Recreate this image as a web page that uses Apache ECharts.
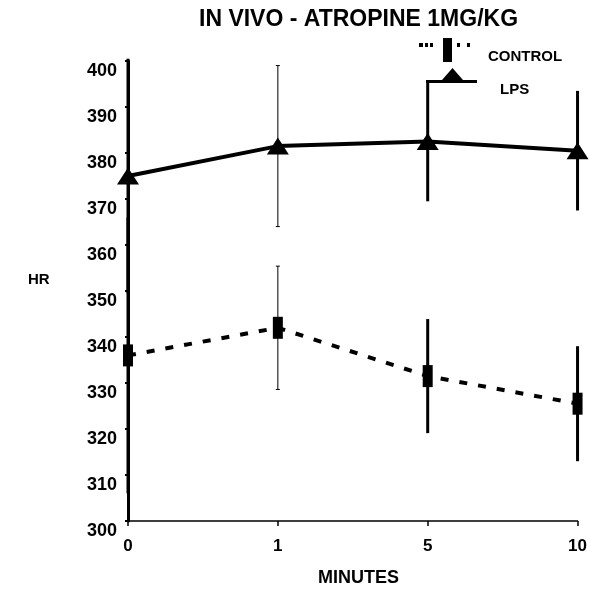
<!DOCTYPE html>
<html>
<head>
<meta charset="utf-8">
<script src="https://cdn.jsdelivr.net/npm/echarts@6/dist/echarts.min.js"></script>
<style>
  html, body { margin: 0; padding: 0; background: #fff; }
  #chart { width: 590px; height: 590px; }
</style>
</head>
<body>
<div id="chart"></div>
<script>
// values
const minutes = ['0', '1', '5', '10']
const controlHR = [336, 342, 331.5, 325.5]
const controlErr = [30, 13.4, 12.4, 12.5]
const lpsHR = [375, 381.5, 382.5, 380.5]
const lpsErr = [25.5, 17.5, 13, 13]
const yTicks = { min: 300, max: 400, step: 10 }

const FONT = 'Liberation Sans, Arial, sans-serif'

let myChart = echarts.init(document.getElementById('chart'))

// error bar data: [index, low, high]
const toBars = (mean, err) => mean.map((v, i) => [i, v - err[i], v + err[i]])

const errBar = (name, mean, err) => ({
  name: name,
  type: 'custom',
  z: 1,
  silent: true,
  renderItem: (params, api) => {
    const i = api.value(0)
    const lo = api.coord([i, api.value(1)])
    const hi = api.coord([i, api.value(2)])
    const thin = i === 1
    const w = thin ? 1 : 3
    const children = [{
      type: 'line',
      shape: { x1: lo[0], y1: lo[1], x2: hi[0], y2: hi[1] },
      style: { stroke: '#000', lineWidth: w }
    }]
    if (thin) {
      children.push({ type: 'line', shape: { x1: lo[0] - 2, y1: lo[1], x2: lo[0] + 2, y2: lo[1] }, style: { stroke: '#000', lineWidth: 1 } })
      children.push({ type: 'line', shape: { x1: hi[0] - 2, y1: hi[1], x2: hi[0] + 2, y2: hi[1] }, style: { stroke: '#000', lineWidth: 1 } })
    }
    return { type: 'group', children: children }
  },
  encode: { x: 0, y: [1, 2] },
  data: toBars(mean, err)
})

const controlIcon = 'path://M0,5h4v4h-4z M6,5h3v4h-3z M11,5h3v4h-3z M24,0h9v24h-9z M38,5h3v4h-3z M48,5h3v4h-3z'
const lpsIcon = 'path://M0,12h51v3h-51z M16,12L26.5,0L37,12z'

const legendText = {
  fontFamily: FONT, fontSize: 15, fontWeight: 'bold', color: '#000'
}

myChart.setOption({
  animation: false,
  color: ['#000'],
  title: {
    text: 'IN VIVO - ATROPINE 1MG/KG',
    left: 199,
    top: 8,
    padding: 0,
    textStyle: { fontFamily: FONT, fontSize: 23, fontWeight: 'bold', color: '#000' }
  },
  legend: [
    {
      data: [{ name: 'CONTROL', icon: controlIcon }],
      left: 419,
      top: 38,
      padding: 0,
      itemWidth: 51,
      itemHeight: 24,
      selectedMode: false,
      formatter: '{t|{name}}',
      textStyle: Object.assign({}, legendText, {
        rich: { t: Object.assign({}, legendText, { padding: [14, 0, 0, 13] }) }
      })
    },
    {
      data: [{ name: 'LPS', icon: lpsIcon }],
      left: 426,
      top: 68,
      padding: 0,
      itemWidth: 51,
      itemHeight: 15,
      selectedMode: false,
      formatter: '{t|{name}}',
      textStyle: Object.assign({}, legendText, {
        rich: { t: Object.assign({}, legendText, { padding: [29, 0, 0, 18] }) }
      })
    }
  ],
  graphic: [
    {
      type: 'text',
      left: 28,
      top: 272,
      style: { text: 'HR', font: 'bold 15px ' + FONT, fill: '#000' }
    },
    {
      type: 'text',
      left: 318,
      top: 569,
      style: { text: 'MINUTES', font: 'bold 18px ' + FONT, fill: '#000' }
    }
  ],
  grid: {
    left: 128,
    right: 8,
    top: 61,
    bottom: 69
  },
  xAxis: {
    type: 'category',
    data: minutes,
    boundaryGap: false,
    axisLine: { lineStyle: { color: '#000', width: 1.5 } },
    axisTick: { show: true, length: 5, lineStyle: { color: '#000', width: 1.5 } },
    axisLabel: { fontFamily: FONT, fontSize: 17, fontWeight: 'bold', color: '#000', margin: 17 },
    splitLine: { show: false }
  },
  yAxis: {
    type: 'value',
    min: yTicks.min,
    max: yTicks.max,
    interval: yTicks.step,
    axisLine: { show: true, lineStyle: { color: '#000', width: 3 } },
    axisTick: { show: true, length: 3, lineStyle: { color: '#000', width: 2 } },
    axisLabel: {
      fontFamily: FONT, fontSize: 18, fontWeight: 'bold', color: '#000',
      margin: 11, verticalAlign: 'top', lineHeight: 21
    },
    splitLine: { show: false }
  },
  series: [
    errBar('CONTROL-err', controlHR, controlErr),
    errBar('LPS-err', lpsHR, lpsErr),
    {
      name: 'CONTROL',
      type: 'line',
      z: 3,
      data: controlHR,
      symbol: 'rect',
      symbolSize: [10, 22],
      lineStyle: { color: '#000', width: 4, type: [8, 11] },
      itemStyle: { color: '#000' }
    },
    {
      name: 'LPS',
      type: 'line',
      z: 3,
      data: lpsHR,
      symbol: 'triangle',
      symbolSize: [22, 17],
      lineStyle: { color: '#000', width: 4 },
      itemStyle: { color: '#000' }
    }
  ]
})
</script>
</body>
</html>
